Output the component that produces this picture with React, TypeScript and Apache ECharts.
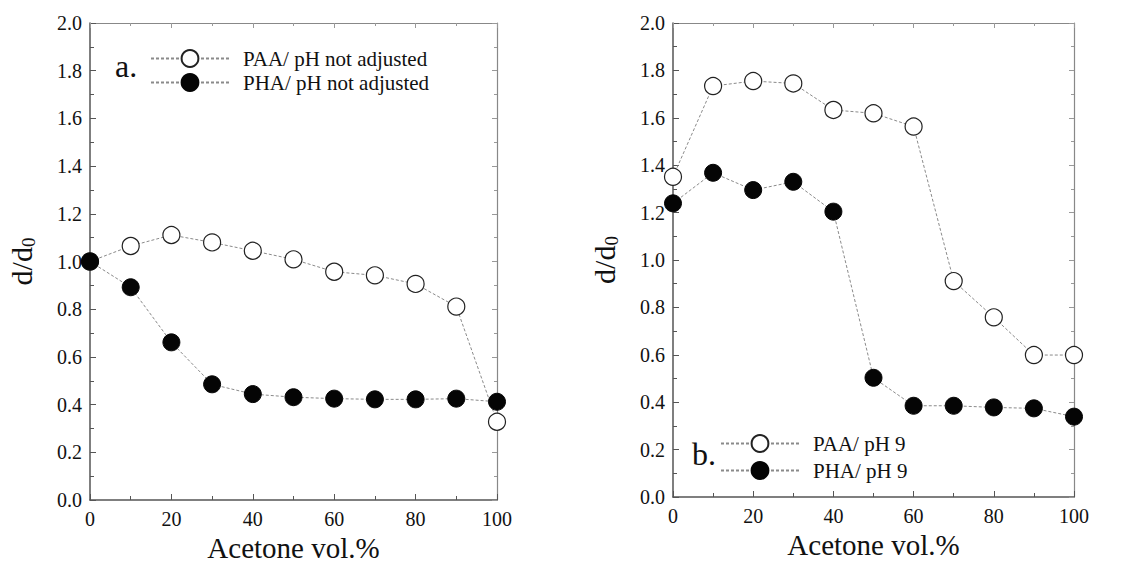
import React, { useEffect, useRef } from "react";
import * as echarts from "echarts";

const acetone = [0, 10, 20, 30, 40, 50, 60, 70, 80, 90, 100];
const paaNotAdjusted = [1.0, 1.065, 1.111, 1.08, 1.045, 1.009, 0.957, 0.942, 0.906, 0.811, 0.328];
const phaNotAdjusted = [1.0, 0.892, 0.661, 0.485, 0.444, 0.431, 0.425, 0.422, 0.422, 0.425, 0.412];
const paaPH9 = [1.351, 1.734, 1.755, 1.745, 1.633, 1.619, 1.563, 0.911, 0.758, 0.599, 0.599];
const phaPH9 = [1.239, 1.368, 1.295, 1.33, 1.204, 0.503, 0.385, 0.385, 0.378, 0.374, 0.339];

const FONT = "'Liberation Serif', 'DejaVu Serif', serif";
const TXT = "#111";
const AX = "#555";

const pairs = (ys: number[]) => acetone.map((x, i) => [x, ys[i]]);

export default function App() {
  const ref = useRef<HTMLDivElement>(null);
  useEffect(() => {
    if (!ref.current) return;
    const chart = echarts.init(ref.current, null, { renderer: "svg" });
    const grids = [
      { left: 90, top: 23, width: 407, height: 477 },
      { left: 673, top: 23, width: 401, height: 474 },
    ];
    const xAxes: any[] = [];
    const yAxes: any[] = [];
    grids.forEach((g, gi) => {
      xAxes.push({
        type: "value", gridIndex: gi, min: 0, max: 100, interval: 20,
        name: "Acetone vol.%", nameLocation: "middle", nameGap: 33,
        nameTextStyle: { fontFamily: FONT, fontSize: 29, lineHeight: 29, color: TXT },
        axisLine: { show: true, onZero: false, lineStyle: { color: AX, width: 1.5 } },
        axisTick: { show: true, inside: true, length: 6, lineStyle: { color: AX } },
        minorTick: { show: true, splitNumber: 2, length: 4, lineStyle: { color: AX } },
        axisLabel: { fontFamily: FONT, fontSize: 20, color: TXT, margin: 9 },
        splitLine: { show: false },
      });
      xAxes.push({
        type: "value", gridIndex: gi, min: 0, max: 100, interval: 20, position: "top",
        axisLine: { show: true, onZero: false, lineStyle: { color: "#888", width: 1.2 } },
        axisTick: { show: true, inside: true, length: 5, lineStyle: { color: "#999" } },
        minorTick: { show: true, splitNumber: 2, length: 3, lineStyle: { color: "#999" } },
        axisLabel: { show: false },
        splitLine: { show: false },
      });
      yAxes.push({
        type: "value", gridIndex: gi, min: 0, max: 2, interval: 0.2,
        name: "d/d{sub|0}", nameLocation: "middle", nameGap: 52,
        nameTextStyle: {
          fontFamily: FONT, fontSize: 30, color: TXT,
          rich: { sub: { fontFamily: FONT, fontSize: 19, color: TXT, verticalAlign: "bottom", padding: [14, 0, 0, 0] } },
        },
        axisLine: { show: true, onZero: false, lineStyle: { color: AX, width: 1.5 } },
        axisTick: { show: true, inside: true, length: 6, lineStyle: { color: AX } },
        minorTick: { show: true, splitNumber: 2, length: 4, lineStyle: { color: AX } },
        axisLabel: { fontFamily: FONT, fontSize: 20, color: TXT, margin: 8, formatter: (v: number) => v.toFixed(1) },
        splitLine: { show: false },
      });
      yAxes.push({
        type: "value", gridIndex: gi, min: 0, max: 2, interval: 0.2, position: "right",
        axisLine: { show: true, onZero: false, lineStyle: { color: "#888", width: 1.2 } },
        axisTick: { show: true, inside: true, length: 5, lineStyle: { color: "#999" } },
        minorTick: { show: true, splitNumber: 2, length: 3, lineStyle: { color: "#999" } },
        axisLabel: { show: false },
        splitLine: { show: false },
      });
    });

    const lineStyle = { color: "#8a8a8a", width: 1, type: [3, 2] as any };
    const openStyle = { color: "#ffffff", borderColor: "#222", borderWidth: 1.2 };
    const filledStyle = { color: "#050505", borderColor: "#050505", borderWidth: 1 };
    const mk = (name: string, ys: number[], gi: number, filled: boolean) => ({
      name, type: "line", xAxisIndex: gi * 2, yAxisIndex: gi * 2,
      data: pairs(ys), symbol: "circle", symbolSize: 17, showAllSymbol: true,
      lineStyle, itemStyle: filled ? filledStyle : openStyle, z: filled ? 3 : 2,
    });

    const legendCommon = {
      orient: "vertical", itemWidth: 78, itemHeight: 21,
      padding: 0,
      textStyle: { fontFamily: FONT, fontSize: 21, color: TXT, padding: [0, 0, 0, 9] },
      selectedMode: false,
    };

    chart.setOption({
      animation: false,
      backgroundColor: "#ffffff",
      grid: grids.map((g) => ({ ...g, containLabel: false, outerBoundsMode: "none" })),
      xAxis: xAxes,
      yAxis: yAxes,
      legend: [
        { ...legendCommon, itemGap: 3, left: 150, top: 48, data: ["PAA/ pH not adjusted", "PHA/ pH not adjusted"] },
        { ...legendCommon, itemGap: 6, left: 720, top: 433, data: ["PAA/ pH 9", "PHA/ pH 9"] },
      ],
      graphic: [
        { type: "text", left: 115, top: 50, style: { text: "a.", fontFamily: FONT, fontSize: 32, fill: TXT } },
        { type: "text", left: 692, top: 438, style: { text: "b.", fontFamily: FONT, fontSize: 32, fill: TXT } },
      ],
      series: [
        mk("PAA/ pH not adjusted", paaNotAdjusted, 0, false),
        mk("PHA/ pH not adjusted", phaNotAdjusted, 0, true),
        mk("PAA/ pH 9", paaPH9, 1, false),
        mk("PHA/ pH 9", phaPH9, 1, true),
      ],
    });
    return () => chart.dispose();
  }, []);
  return <div ref={ref} style={{ position: "fixed", left: 0, top: 0, width: 1133, height: 563 }} />;
}
